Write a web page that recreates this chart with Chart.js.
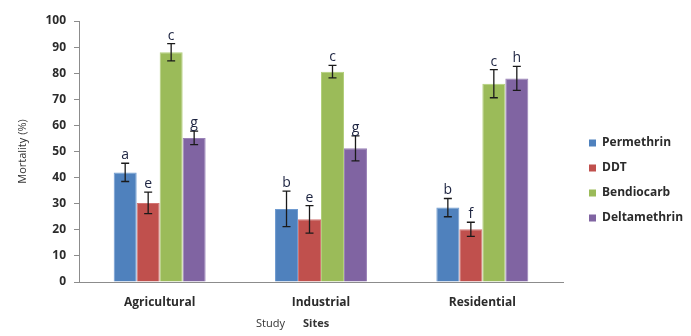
<!DOCTYPE html>
<html>
<head>
<meta charset="utf-8">
<script src="https://cdn.jsdelivr.net/npm/chart.js@4.4.0/dist/chart.umd.min.js"></script>
<style>
  html, body { margin: 0; padding: 0; background: #fff; }
  #wrap { width: 691px; height: 336px; }
</style>
</head>
<body>
<div id="wrap"><canvas id="chart" width="691" height="336"></canvas></div>
<script>
// data
const sites = ['Agricultural', 'Industrial', 'Residential'];
const insecticides = ['Permethrin', 'DDT', 'Bendiocarb', 'Deltamethrin'];
const permethrin = [42, 28, 28.5];
const ddt = [30.3, 24, 20.2];
const bendiocarb = [88, 80.6, 76];
const deltamethrin = [55.2, 51.2, 78];
const permethrinErr = [3.5, 6.8, 3.5];
const ddtErr = [4.1, 5.3, 2.7];
const bendiocarbErr = [3.3, 2.4, 5.4];
const deltamethrinErr = [2.6, 4.8, 4.6];
const permethrinLetters = ['a', 'b', 'b'];
const ddtLetters = ['e', 'e', 'f'];
const bendiocarbLetters = ['c', 'c', 'c'];
const deltamethrinLetters = ['g', 'g', 'h'];
const yTicks = [0, 10, 20, 30, 40, 50, 60, 70, 80, 90, 100];

const colors = ['#4F81BD', '#C0504D', '#9BBB59', '#8064A2'];
const borders = ['#6f9bd0', '#d27573', '#b2cf7a', '#9a82b8'];
const seriesValues = [permethrin, ddt, bendiocarb, deltamethrin];
const seriesErr = [permethrinErr, ddtErr, bendiocarbErr, deltamethrinErr];
const seriesLetters = [permethrinLetters, ddtLetters, bendiocarbLetters, deltamethrinLetters];

const FONT = '"Open Sans", "Noto Sans", sans-serif';

// error bars + significance letters
const errorBars = {
    id: 'errorBars',
    afterDatasetsDraw(chart) {
        const ctx = chart.ctx;
        const y = chart.scales.y;
        ctx.save();
        ctx.strokeStyle = '#1a1a1a';
        ctx.lineWidth = 1.3;
        chart.data.datasets.forEach((ds, i) => {
            const meta = chart.getDatasetMeta(i);
            meta.data.forEach((bar, j) => {
                const v = ds.data[j], e = seriesErr[i][j];
                const top = y.getPixelForValue(v + e);
                const bot = y.getPixelForValue(v - e);
                const x = bar.x;
                ctx.beginPath();
                ctx.moveTo(x, top); ctx.lineTo(x, bot);
                ctx.moveTo(x - 4, top); ctx.lineTo(x + 4, top);
                ctx.moveTo(x - 4, bot); ctx.lineTo(x + 4, bot);
                ctx.stroke();
                ctx.fillStyle = '#1c2340';
                ctx.font = '14px ' + FONT;
                ctx.textAlign = 'center';
                ctx.textBaseline = 'middle';
                ctx.fillText(seriesLetters[i][j], x, top - 8);
            });
        });
        ctx.restore();
    }
};

// legend and the two-weight axis title
const extras = {
    id: 'extras',
    afterDraw(chart) {
        const ctx = chart.ctx;
        const area = chart.chartArea;
        ctx.save();
        ctx.textBaseline = 'middle';
        ctx.textAlign = 'left';
        insecticides.forEach((name, i) => {
            const ly = 143 + i * 25;
            ctx.fillStyle = colors[i];
            ctx.fillRect(area.right + 26, ly - 3.5, 7, 7);
            ctx.fillStyle = '#2b2b2b';
            ctx.font = 'bold 12px ' + FONT;
            ctx.fillText(name, area.right + 39, ly);
        });
        const cx = (area.left + area.right) / 2;
        ctx.fillStyle = '#333';
        ctx.font = '11px ' + FONT;
        ctx.fillText('Study', cx - 65, 324);
        ctx.font = 'bold 11px ' + FONT;
        ctx.fillText('Sites', cx - 18, 324);
        ctx.restore();
    }
};

new Chart(document.getElementById('chart'), {
    type: 'bar',
    data: {
        labels: sites,
        datasets: insecticides.map((name, i) => ({
            label: name,
            data: seriesValues[i],
            backgroundColor: colors[i],
            borderColor: borders[i],
            borderWidth: 1,
            barPercentage: 1,
            categoryPercentage: 0.57
        }))
    },
    options: {
        responsive: false,
        animation: false,
        devicePixelRatio: 1,
        layout: { padding: { left: 0, right: 128, top: 21, bottom: 0 } },
        plugins: {
            legend: { display: false },
            tooltip: { enabled: false }
        },
        scales: {
            x: {
                grid: { display: false, drawTicks: false },
                border: { display: true, color: '#8c8c8c', width: 1 },
                ticks: { color: '#2b2b2b', font: { family: FONT, size: 12, weight: 'bold' }, padding: 13 },
                afterFit: s => { s.height = 54; }
            },
            y: {
                min: 0,
                max: 100,
                afterBuildTicks: s => { s.ticks = yTicks.map(v => ({ value: v })); },
                grid: { drawOnChartArea: false, drawTicks: true, tickLength: 5, color: '#8c8c8c' },
                border: { display: true, color: '#8c8c8c', width: 1 },
                ticks: { color: '#2b2b2b', font: { family: FONT, size: 12, weight: 'bold' }, padding: 8 },
                title: {
                    display: true,
                    text: 'Mortality (%)',
                    color: '#333',
                    font: { family: FONT, size: 11 },
                    padding: { top: 16, bottom: 0 }
                },
                afterFit: s => { s.width = 79; }
            }
        }
    },
    plugins: [errorBars, extras]
});
</script>
</body>
</html>
